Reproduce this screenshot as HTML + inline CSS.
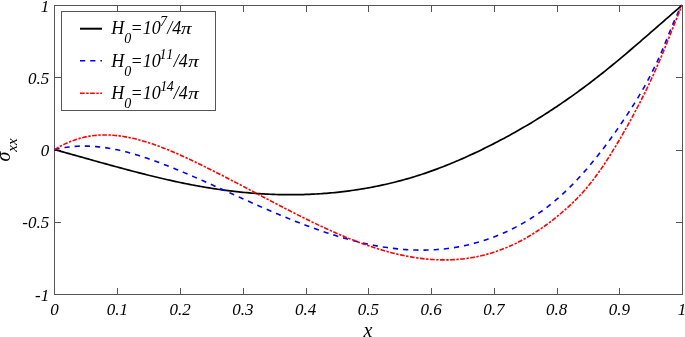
<!DOCTYPE html>
<html><head><meta charset="utf-8"><style>
html,body{margin:0;padding:0;background:#fff;width:685px;height:337px;overflow:hidden}
svg{display:block}
.t{font-family:"Liberation Serif",serif;font-style:italic;font-size:17px;fill:#000}
.al{font-family:"Liberation Serif",serif;font-style:italic;font-size:20px;fill:#000}
.lg{font-family:"Liberation Serif",serif;font-style:italic;font-size:18px;fill:#000}
</style></head><body>
<svg width="685" height="337" viewBox="0 0 685 337">
<rect x="54.5" y="5.5" width="628.0" height="289.0" fill="none" stroke="#555555" stroke-width="1"/>
<line x1="117.5" y1="294.5" x2="117.5" y2="288.0" stroke="#555555" stroke-width="1"/>
<line x1="117.5" y1="5.5" x2="117.5" y2="12.0" stroke="#555555" stroke-width="1"/>
<line x1="180.5" y1="294.5" x2="180.5" y2="288.0" stroke="#555555" stroke-width="1"/>
<line x1="180.5" y1="5.5" x2="180.5" y2="12.0" stroke="#555555" stroke-width="1"/>
<line x1="243.5" y1="294.5" x2="243.5" y2="288.0" stroke="#555555" stroke-width="1"/>
<line x1="243.5" y1="5.5" x2="243.5" y2="12.0" stroke="#555555" stroke-width="1"/>
<line x1="306.5" y1="294.5" x2="306.5" y2="288.0" stroke="#555555" stroke-width="1"/>
<line x1="306.5" y1="5.5" x2="306.5" y2="12.0" stroke="#555555" stroke-width="1"/>
<line x1="368.5" y1="294.5" x2="368.5" y2="288.0" stroke="#555555" stroke-width="1"/>
<line x1="368.5" y1="5.5" x2="368.5" y2="12.0" stroke="#555555" stroke-width="1"/>
<line x1="431.5" y1="294.5" x2="431.5" y2="288.0" stroke="#555555" stroke-width="1"/>
<line x1="431.5" y1="5.5" x2="431.5" y2="12.0" stroke="#555555" stroke-width="1"/>
<line x1="494.5" y1="294.5" x2="494.5" y2="288.0" stroke="#555555" stroke-width="1"/>
<line x1="494.5" y1="5.5" x2="494.5" y2="12.0" stroke="#555555" stroke-width="1"/>
<line x1="557.5" y1="294.5" x2="557.5" y2="288.0" stroke="#555555" stroke-width="1"/>
<line x1="557.5" y1="5.5" x2="557.5" y2="12.0" stroke="#555555" stroke-width="1"/>
<line x1="619.5" y1="294.5" x2="619.5" y2="288.0" stroke="#555555" stroke-width="1"/>
<line x1="619.5" y1="5.5" x2="619.5" y2="12.0" stroke="#555555" stroke-width="1"/>
<line x1="54.5" y1="77.5" x2="61.0" y2="77.5" stroke="#555555" stroke-width="1"/>
<line x1="682.5" y1="77.5" x2="676.0" y2="77.5" stroke="#555555" stroke-width="1"/>
<line x1="54.5" y1="150.5" x2="61.0" y2="150.5" stroke="#555555" stroke-width="1"/>
<line x1="682.5" y1="150.5" x2="676.0" y2="150.5" stroke="#555555" stroke-width="1"/>
<line x1="54.5" y1="222.5" x2="61.0" y2="222.5" stroke="#555555" stroke-width="1"/>
<line x1="682.5" y1="222.5" x2="676.0" y2="222.5" stroke="#555555" stroke-width="1"/>
<path d="M54.50,149.60 L56.59,150.18 L58.68,150.76 L60.78,151.34 L62.87,151.92 L64.96,152.50 L67.05,153.08 L69.14,153.67 L71.24,154.25 L73.33,154.84 L75.42,155.42 L77.51,156.01 L79.60,156.59 L81.70,157.18 L83.79,157.77 L85.88,158.35 L87.97,158.94 L90.06,159.53 L92.16,160.11 L94.25,160.70 L96.34,161.28 L98.43,161.86 L100.52,162.45 L102.62,163.03 L104.71,163.61 L106.80,164.18 L108.89,164.76 L110.98,165.34 L113.08,165.91 L115.17,166.48 L117.26,167.05 L119.35,167.61 L121.44,168.18 L123.54,168.74 L125.63,169.30 L127.72,169.85 L129.81,170.41 L131.90,170.96 L134.00,171.51 L136.09,172.05 L138.18,172.59 L140.27,173.13 L142.36,173.66 L144.46,174.19 L146.55,174.71 L148.64,175.23 L150.73,175.75 L152.82,176.26 L154.92,176.77 L157.01,177.27 L159.10,177.77 L161.19,178.26 L163.28,178.75 L165.38,179.23 L167.47,179.71 L169.56,180.18 L171.65,180.65 L173.74,181.11 L175.84,181.57 L177.93,182.02 L180.02,182.46 L182.11,182.89 L184.20,183.32 L186.30,183.75 L188.39,184.17 L190.48,184.58 L192.57,184.98 L194.66,185.37 L196.76,185.76 L198.85,186.14 L200.94,186.52 L203.03,186.88 L205.12,187.24 L207.22,187.59 L209.31,187.94 L211.40,188.27 L213.49,188.60 L215.58,188.92 L217.68,189.23 L219.77,189.53 L221.86,189.83 L223.95,190.11 L226.04,190.39 L228.14,190.66 L230.23,190.92 L232.32,191.17 L234.41,191.42 L236.50,191.66 L238.60,191.88 L240.69,192.10 L242.78,192.31 L244.87,192.52 L246.96,192.71 L249.06,192.89 L251.15,193.07 L253.24,193.24 L255.33,193.40 L257.42,193.55 L259.52,193.69 L261.61,193.82 L263.70,193.94 L265.79,194.06 L267.88,194.16 L269.98,194.26 L272.07,194.35 L274.16,194.42 L276.25,194.49 L278.34,194.55 L280.44,194.60 L282.53,194.64 L284.62,194.67 L286.71,194.70 L288.80,194.71 L290.90,194.71 L292.99,194.71 L295.08,194.69 L297.17,194.67 L299.26,194.63 L301.36,194.59 L303.45,194.53 L305.54,194.47 L307.63,194.40 L309.72,194.31 L311.82,194.22 L313.91,194.12 L316.00,194.00 L318.09,193.88 L320.18,193.75 L322.28,193.61 L324.37,193.45 L326.46,193.29 L328.55,193.12 L330.64,192.93 L332.74,192.74 L334.83,192.54 L336.92,192.32 L339.01,192.10 L341.10,191.86 L343.20,191.62 L345.29,191.36 L347.38,191.10 L349.47,190.82 L351.56,190.53 L353.66,190.24 L355.75,189.93 L357.84,189.61 L359.93,189.28 L362.02,188.94 L364.12,188.59 L366.21,188.22 L368.30,187.85 L370.39,187.47 L372.48,187.07 L374.58,186.67 L376.67,186.25 L378.76,185.82 L380.85,185.38 L382.94,184.93 L385.04,184.47 L387.13,183.99 L389.22,183.51 L391.31,183.01 L393.40,182.50 L395.50,181.98 L397.59,181.44 L399.68,180.90 L401.77,180.34 L403.86,179.76 L405.96,179.18 L408.05,178.58 L410.14,177.97 L412.23,177.34 L414.32,176.70 L416.42,176.05 L418.51,175.39 L420.60,174.71 L422.69,174.02 L424.78,173.32 L426.88,172.60 L428.97,171.88 L431.06,171.14 L433.15,170.38 L435.24,169.62 L437.34,168.84 L439.43,168.05 L441.52,167.25 L443.61,166.44 L445.70,165.61 L447.80,164.78 L449.89,163.93 L451.98,163.07 L454.07,162.20 L456.16,161.32 L458.26,160.43 L460.35,159.52 L462.44,158.61 L464.53,157.68 L466.62,156.75 L468.72,155.80 L470.81,154.84 L472.90,153.87 L474.99,152.89 L477.08,151.91 L479.18,150.91 L481.27,149.90 L483.36,148.88 L485.45,147.85 L487.54,146.81 L489.64,145.76 L491.73,144.70 L493.82,143.63 L495.91,142.56 L498.00,141.47 L500.10,140.37 L502.19,139.26 L504.28,138.14 L506.37,137.02 L508.46,135.88 L510.56,134.73 L512.65,133.57 L514.74,132.40 L516.83,131.22 L518.92,130.03 L521.02,128.82 L523.11,127.61 L525.20,126.39 L527.29,125.15 L529.38,123.91 L531.48,122.65 L533.57,121.38 L535.66,120.10 L537.75,118.81 L539.84,117.51 L541.94,116.19 L544.03,114.87 L546.12,113.53 L548.21,112.18 L550.30,110.82 L552.40,109.45 L554.49,108.07 L556.58,106.67 L558.67,105.27 L560.76,103.85 L562.86,102.42 L564.95,100.98 L567.04,99.52 L569.13,98.06 L571.22,96.58 L573.32,95.09 L575.41,93.59 L577.50,92.08 L579.59,90.55 L581.68,89.01 L583.78,87.47 L585.87,85.91 L587.96,84.33 L590.05,82.75 L592.14,81.15 L594.24,79.54 L596.33,77.92 L598.42,76.29 L600.51,74.64 L602.60,72.98 L604.70,71.31 L606.79,69.63 L608.88,67.94 L610.97,66.24 L613.06,64.52 L615.16,62.80 L617.25,61.07 L619.34,59.33 L621.43,57.58 L623.52,55.82 L625.62,54.06 L627.71,52.29 L629.80,50.51 L631.89,48.73 L633.98,46.93 L636.08,45.14 L638.17,43.34 L640.26,41.53 L642.35,39.73 L644.44,37.91 L646.54,36.10 L648.63,34.28 L650.72,32.46 L652.81,30.64 L654.90,28.82 L657.00,26.99 L659.09,25.17 L661.18,23.34 L663.27,21.52 L665.36,19.69 L667.46,17.87 L669.55,16.05 L671.64,14.23 L673.73,12.42 L675.82,10.61 L677.92,8.80 L680.01,6.99 L682.10,5.20" fill="none" stroke="#000000" stroke-width="1.7"/>
<path d="M54.50,149.60 L56.59,149.09 L58.68,148.63 L60.78,148.21 L62.87,147.83 L64.96,147.49 L67.05,147.19 L69.14,146.92 L71.24,146.69 L73.33,146.50 L75.42,146.35 L77.51,146.23 L79.60,146.14 L81.70,146.09 L83.79,146.07 L85.88,146.09 L87.97,146.13 L90.06,146.21 L92.16,146.32 L94.25,146.46 L96.34,146.63 L98.43,146.83 L100.52,147.06 L102.62,147.32 L104.71,147.60 L106.80,147.91 L108.89,148.25 L110.98,148.61 L113.08,148.99 L115.17,149.41 L117.26,149.84 L119.35,150.30 L121.44,150.78 L123.54,151.28 L125.63,151.80 L127.72,152.35 L129.81,152.91 L131.90,153.50 L134.00,154.10 L136.09,154.72 L138.18,155.36 L140.27,156.01 L142.36,156.68 L144.46,157.37 L146.55,158.07 L148.64,158.79 L150.73,159.52 L152.82,160.26 L154.92,161.02 L157.01,161.79 L159.10,162.57 L161.19,163.36 L163.28,164.16 L165.38,164.97 L167.47,165.79 L169.56,166.61 L171.65,167.45 L173.74,168.29 L175.84,169.15 L177.93,170.01 L180.02,170.87 L182.11,171.74 L184.20,172.62 L186.30,173.51 L188.39,174.40 L190.48,175.30 L192.57,176.20 L194.66,177.11 L196.76,178.02 L198.85,178.94 L200.94,179.86 L203.03,180.79 L205.12,181.72 L207.22,182.65 L209.31,183.58 L211.40,184.52 L213.49,185.46 L215.58,186.40 L217.68,187.35 L219.77,188.29 L221.86,189.24 L223.95,190.19 L226.04,191.14 L228.14,192.09 L230.23,193.04 L232.32,193.99 L234.41,194.94 L236.50,195.88 L238.60,196.83 L240.69,197.78 L242.78,198.72 L244.87,199.66 L246.96,200.60 L249.06,201.54 L251.15,202.48 L253.24,203.41 L255.33,204.34 L257.42,205.26 L259.52,206.19 L261.61,207.11 L263.70,208.02 L265.79,208.93 L267.88,209.84 L269.98,210.74 L272.07,211.64 L274.16,212.53 L276.25,213.42 L278.34,214.31 L280.44,215.18 L282.53,216.05 L284.62,216.92 L286.71,217.78 L288.80,218.63 L290.90,219.48 L292.99,220.32 L295.08,221.15 L297.17,221.98 L299.26,222.79 L301.36,223.60 L303.45,224.41 L305.54,225.20 L307.63,225.99 L309.72,226.76 L311.82,227.53 L313.91,228.29 L316.00,229.04 L318.09,229.78 L320.18,230.52 L322.28,231.24 L324.37,231.95 L326.46,232.65 L328.55,233.34 L330.64,234.02 L332.74,234.69 L334.83,235.35 L336.92,236.00 L339.01,236.63 L341.10,237.26 L343.20,237.87 L345.29,238.47 L347.38,239.05 L349.47,239.63 L351.56,240.19 L353.66,240.74 L355.75,241.27 L357.84,241.79 L359.93,242.30 L362.02,242.80 L364.12,243.28 L366.21,243.74 L368.30,244.19 L370.39,244.63 L372.48,245.05 L374.58,245.46 L376.67,245.85 L378.76,246.22 L380.85,246.58 L382.94,246.93 L385.04,247.25 L387.13,247.56 L389.22,247.86 L391.31,248.13 L393.40,248.39 L395.50,248.64 L397.59,248.86 L399.68,249.07 L401.77,249.26 L403.86,249.43 L405.96,249.58 L408.05,249.72 L410.14,249.83 L412.23,249.93 L414.32,250.00 L416.42,250.06 L418.51,250.10 L420.60,250.12 L422.69,250.12 L424.78,250.09 L426.88,250.05 L428.97,249.99 L431.06,249.91 L433.15,249.80 L435.24,249.68 L437.34,249.53 L439.43,249.37 L441.52,249.18 L443.61,248.97 L445.70,248.74 L447.80,248.48 L449.89,248.21 L451.98,247.91 L454.07,247.59 L456.16,247.24 L458.26,246.88 L460.35,246.49 L462.44,246.07 L464.53,245.64 L466.62,245.18 L468.72,244.69 L470.81,244.18 L472.90,243.65 L474.99,243.10 L477.08,242.52 L479.18,241.91 L481.27,241.28 L483.36,240.62 L485.45,239.94 L487.54,239.24 L489.64,238.51 L491.73,237.75 L493.82,236.97 L495.91,236.16 L498.00,235.32 L500.10,234.46 L502.19,233.57 L504.28,232.65 L506.37,231.70 L508.46,230.72 L510.56,229.72 L512.65,228.69 L514.74,227.63 L516.83,226.54 L518.92,225.42 L521.02,224.26 L523.11,223.08 L525.20,221.87 L527.29,220.63 L529.38,219.35 L531.48,218.04 L533.57,216.70 L535.66,215.32 L537.75,213.91 L539.84,212.46 L541.94,210.98 L544.03,209.46 L546.12,207.89 L548.21,206.29 L550.30,204.65 L552.40,202.96 L554.49,201.24 L556.58,199.47 L558.67,197.65 L560.76,195.80 L562.86,193.89 L564.95,191.94 L567.04,189.94 L569.13,187.90 L571.22,185.82 L573.32,183.68 L575.41,181.51 L577.50,179.29 L579.59,177.03 L581.68,174.73 L583.78,172.38 L585.87,169.99 L587.96,167.56 L590.05,165.09 L592.14,162.58 L594.24,160.03 L596.33,157.44 L598.42,154.80 L600.51,152.13 L602.60,149.42 L604.70,146.68 L606.79,143.89 L608.88,141.06 L610.97,138.19 L613.06,135.29 L615.16,132.34 L617.25,129.36 L619.34,126.34 L621.43,123.27 L623.52,120.17 L625.62,117.03 L627.71,113.84 L629.80,110.62 L631.89,107.36 L633.98,104.06 L636.08,100.71 L638.17,97.30 L640.26,93.82 L642.35,90.24 L644.44,86.55 L646.54,82.73 L648.63,78.78 L650.72,74.73 L652.81,70.58 L654.90,66.37 L657.00,62.03 L659.09,57.49 L661.18,52.73 L663.27,47.77 L665.36,42.66 L667.46,37.47 L669.55,32.28 L671.64,27.16 L673.73,22.18 L675.82,17.42 L677.92,12.96 L680.01,8.86 L682.10,5.20" fill="none" stroke="#0000ff" stroke-width="1.6" stroke-dasharray="5.2 5.0"/>
<path d="M54.50,149.60 L56.59,148.33 L58.68,147.12 L60.78,145.97 L62.87,144.89 L64.96,143.87 L67.05,142.91 L69.14,142.01 L71.24,141.17 L73.33,140.39 L75.42,139.66 L77.51,138.99 L79.60,138.38 L81.70,137.82 L83.79,137.31 L85.88,136.86 L87.97,136.45 L90.06,136.10 L92.16,135.79 L94.25,135.54 L96.34,135.33 L98.43,135.17 L100.52,135.05 L102.62,134.98 L104.71,134.95 L106.80,134.96 L108.89,135.02 L110.98,135.12 L113.08,135.25 L115.17,135.43 L117.26,135.64 L119.35,135.89 L121.44,136.18 L123.54,136.50 L125.63,136.85 L127.72,137.24 L129.81,137.66 L131.90,138.11 L134.00,138.59 L136.09,139.09 L138.18,139.63 L140.27,140.20 L142.36,140.79 L144.46,141.40 L146.55,142.04 L148.64,142.71 L150.73,143.39 L152.82,144.10 L154.92,144.83 L157.01,145.58 L159.10,146.35 L161.19,147.14 L163.28,147.94 L165.38,148.77 L167.47,149.61 L169.56,150.46 L171.65,151.34 L173.74,152.23 L175.84,153.13 L177.93,154.04 L180.02,154.97 L182.11,155.91 L184.20,156.87 L186.30,157.83 L188.39,158.80 L190.48,159.79 L192.57,160.78 L194.66,161.78 L196.76,162.79 L198.85,163.80 L200.94,164.82 L203.03,165.85 L205.12,166.88 L207.22,167.92 L209.31,168.96 L211.40,170.00 L213.49,171.06 L215.58,172.11 L217.68,173.17 L219.77,174.23 L221.86,175.30 L223.95,176.37 L226.04,177.45 L228.14,178.53 L230.23,179.61 L232.32,180.69 L234.41,181.78 L236.50,182.87 L238.60,183.96 L240.69,185.06 L242.78,186.16 L244.87,187.26 L246.96,188.36 L249.06,189.46 L251.15,190.57 L253.24,191.67 L255.33,192.78 L257.42,193.89 L259.52,194.99 L261.61,196.10 L263.70,197.20 L265.79,198.31 L267.88,199.41 L269.98,200.51 L272.07,201.61 L274.16,202.71 L276.25,203.81 L278.34,204.90 L280.44,205.99 L282.53,207.08 L284.62,208.17 L286.71,209.25 L288.80,210.33 L290.90,211.40 L292.99,212.47 L295.08,213.53 L297.17,214.59 L299.26,215.65 L301.36,216.69 L303.45,217.74 L305.54,218.77 L307.63,219.80 L309.72,220.83 L311.82,221.85 L313.91,222.86 L316.00,223.86 L318.09,224.85 L320.18,225.84 L322.28,226.82 L324.37,227.79 L326.46,228.75 L328.55,229.70 L330.64,230.64 L332.74,231.58 L334.83,232.50 L336.92,233.41 L339.01,234.31 L341.10,235.20 L343.20,236.09 L345.29,236.95 L347.38,237.81 L349.47,238.66 L351.56,239.49 L353.66,240.31 L355.75,241.12 L357.84,241.92 L359.93,242.70 L362.02,243.47 L364.12,244.22 L366.21,244.96 L368.30,245.69 L370.39,246.40 L372.48,247.10 L374.58,247.78 L376.67,248.45 L378.76,249.10 L380.85,249.73 L382.94,250.35 L385.04,250.95 L387.13,251.54 L389.22,252.10 L391.31,252.65 L393.40,253.19 L395.50,253.70 L397.59,254.20 L399.68,254.68 L401.77,255.14 L403.86,255.58 L405.96,256.00 L408.05,256.40 L410.14,256.78 L412.23,257.14 L414.32,257.48 L416.42,257.80 L418.51,258.10 L420.60,258.38 L422.69,258.63 L424.78,258.86 L426.88,259.08 L428.97,259.26 L431.06,259.43 L433.15,259.57 L435.24,259.69 L437.34,259.78 L439.43,259.85 L441.52,259.90 L443.61,259.92 L445.70,259.92 L447.80,259.89 L449.89,259.84 L451.98,259.76 L454.07,259.65 L456.16,259.52 L458.26,259.36 L460.35,259.17 L462.44,258.95 L464.53,258.71 L466.62,258.44 L468.72,258.14 L470.81,257.82 L472.90,257.46 L474.99,257.08 L477.08,256.66 L479.18,256.22 L481.27,255.75 L483.36,255.24 L485.45,254.71 L487.54,254.14 L489.64,253.54 L491.73,252.91 L493.82,252.25 L495.91,251.56 L498.00,250.84 L500.10,250.08 L502.19,249.29 L504.28,248.47 L506.37,247.62 L508.46,246.73 L510.56,245.81 L512.65,244.86 L514.74,243.87 L516.83,242.85 L518.92,241.80 L521.02,240.71 L523.11,239.59 L525.20,238.44 L527.29,237.25 L529.38,236.03 L531.48,234.77 L533.57,233.48 L535.66,232.15 L537.75,230.79 L539.84,229.40 L541.94,227.96 L544.03,226.50 L546.12,225.00 L548.21,223.46 L550.30,221.89 L552.40,220.28 L554.49,218.64 L556.58,216.96 L558.67,215.24 L560.76,213.49 L562.86,211.70 L564.95,209.87 L567.04,208.01 L569.13,206.10 L571.22,204.15 L573.32,202.14 L575.41,200.08 L577.50,197.97 L579.59,195.78 L581.68,193.54 L583.78,191.22 L585.87,188.82 L587.96,186.35 L590.05,183.79 L592.14,181.15 L594.24,178.42 L596.33,175.60 L598.42,172.71 L600.51,169.74 L602.60,166.69 L604.70,163.57 L606.79,160.38 L608.88,157.12 L610.97,153.80 L613.06,150.42 L615.16,146.99 L617.25,143.49 L619.34,139.94 L621.43,136.35 L623.52,132.70 L625.62,129.01 L627.71,125.28 L629.80,121.51 L631.89,117.69 L633.98,113.82 L636.08,109.89 L638.17,105.90 L640.26,101.85 L642.35,97.73 L644.44,93.54 L646.54,89.27 L648.63,84.92 L650.72,80.49 L652.81,75.97 L654.90,71.35 L657.00,66.65 L659.09,61.84 L661.18,56.92 L663.27,51.90 L665.36,46.77 L667.46,41.56 L669.55,36.30 L671.64,31.01 L673.73,25.72 L675.82,20.47 L677.92,15.28 L680.01,10.18 L682.10,5.20" fill="none" stroke="#ff0000" stroke-width="1.6" stroke-dasharray="4.7 1.5 2.4 1.5"/>
<rect x="61.5" y="11.5" width="154" height="99" fill="#ffffff" stroke="#555555" stroke-width="1"/>
<line x1="80" y1="28.7" x2="102" y2="28.7" stroke="#000" stroke-width="2"/>
<line x1="80" y1="60.8" x2="102" y2="60.8" stroke="#0000ff" stroke-width="1.6" stroke-dasharray="5.2 5.0"/>
<line x1="80" y1="93.2" x2="102" y2="93.2" stroke="#ff0000" stroke-width="1.6" stroke-dasharray="4.7 1.5 2.4 1.5"/>
<g style="filter:grayscale(1)">
<text x="54.5" y="315" text-anchor="middle" class="t">0</text>
<text x="117.3" y="315" text-anchor="middle" class="t">0.1</text>
<text x="180.0" y="315" text-anchor="middle" class="t">0.2</text>
<text x="242.8" y="315" text-anchor="middle" class="t">0.3</text>
<text x="305.5" y="315" text-anchor="middle" class="t">0.4</text>
<text x="368.3" y="315" text-anchor="middle" class="t">0.5</text>
<text x="431.1" y="315" text-anchor="middle" class="t">0.6</text>
<text x="493.8" y="315" text-anchor="middle" class="t">0.7</text>
<text x="556.6" y="315" text-anchor="middle" class="t">0.8</text>
<text x="619.3" y="315" text-anchor="middle" class="t">0.9</text>
<text x="682.1" y="315" text-anchor="middle" class="t">1</text>
<text x="49.2" y="11.8" text-anchor="end" class="t">1</text>
<text x="49.2" y="84.0" text-anchor="end" class="t">0.5</text>
<text x="49.2" y="156.2" text-anchor="end" class="t">0</text>
<text x="49.2" y="228.4" text-anchor="end" class="t">-0.5</text>
<text x="49.2" y="300.6" text-anchor="end" class="t">-1</text>
<text x="368" y="337.4" text-anchor="middle" class="al">x</text>
<text transform="translate(9.7,150) rotate(-90)" text-anchor="middle" class="al">σ<tspan dy="7.6" style="font-size:15px">xx</tspan></text>
<text x="111.3" y="34.2" class="lg">H</text><text x="124.2" y="43.1" class="lg" style="font-size:14px">0</text><text x="130.6" y="34.2" class="lg">=10</text><text x="160" y="25.800000000000004" class="lg" style="font-size:14px;letter-spacing:0px">7</text><text x="167.2" y="34.2" class="lg">/4</text><text transform="translate(181,34.2) scale(1.17,0.92)" class="lg">π</text>
<text x="111.3" y="66.6" class="lg">H</text><text x="124.2" y="75.5" class="lg" style="font-size:14px">0</text><text x="130.6" y="66.6" class="lg">=10</text><text x="159.4" y="58.599999999999994" class="lg" style="font-size:14px;letter-spacing:1.0px">11</text><text x="173.8" y="66.6" class="lg">/4</text><text transform="translate(188.2,66.6) scale(1.17,0.92)" class="lg">π</text>
<text x="111.3" y="98.8" class="lg">H</text><text x="124.2" y="107.7" class="lg" style="font-size:14px">0</text><text x="130.6" y="98.8" class="lg">=10</text><text x="160.3" y="90.8" class="lg" style="font-size:14px;letter-spacing:-0.6px">14</text><text x="173.8" y="98.8" class="lg">/4</text><text transform="translate(188.2,98.8) scale(1.17,0.92)" class="lg">π</text>
</g>
</svg>
</body></html>
